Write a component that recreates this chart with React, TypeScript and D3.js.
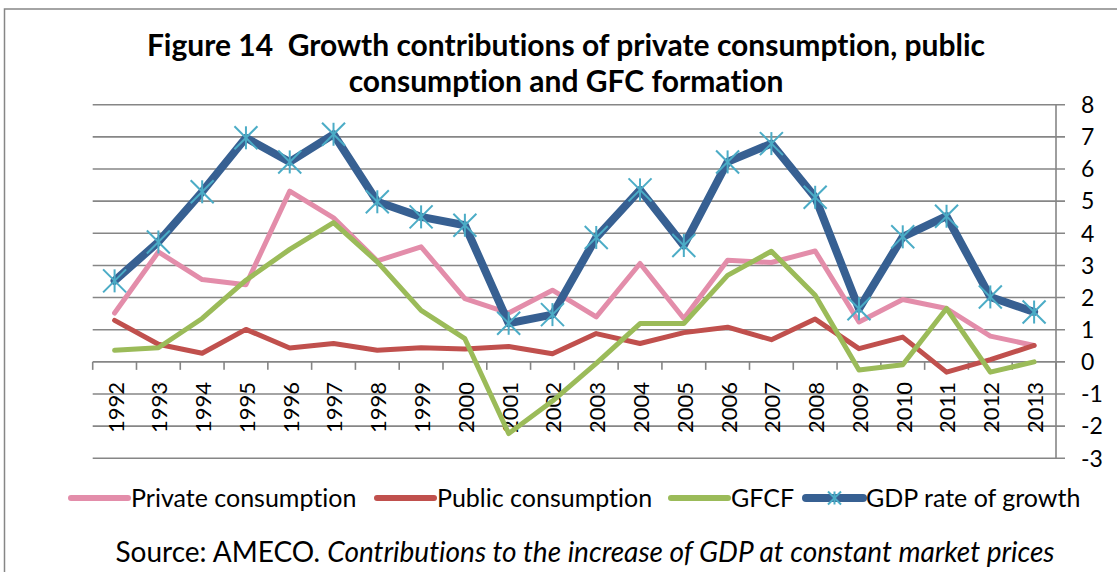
import React from 'react';
import * as d3 from 'd3';

const years = ['1992','1993','1994','1995','1996','1997','1998','1999','2000','2001','2002','2003','2004','2005','2006','2007','2008','2009','2010','2011','2012','2013'];
const privateConsumption = [1.52,3.42,2.56,2.4,5.31,4.48,3.14,3.58,1.97,1.52,2.23,1.4,3.06,1.35,3.16,3.09,3.45,1.24,1.94,1.66,0.8,0.51];
const publicConsumption = [1.29,0.55,0.27,1.01,0.43,0.57,0.36,0.44,0.4,0.48,0.25,0.88,0.57,0.91,1.08,0.69,1.33,0.41,0.77,-0.32,0.07,0.51];
const gfcf = [0.36,0.44,1.35,2.54,3.5,4.33,3.11,1.6,0.72,-2.23,-1.22,-0.05,1.19,1.19,2.69,3.44,2.07,-0.25,-0.09,1.66,-0.32,0.0];
const gdpGrowth = [2.52,3.73,5.29,6.97,6.22,7.08,4.98,4.51,4.25,1.2,1.47,3.87,5.35,3.62,6.22,6.79,5.12,1.65,3.89,4.53,2.02,1.55];
const yTicks = [-3,-2,-1,0,1,2,3,4,5,6,7,8];
const seriesNames = ['Private consumption','Public consumption','GFCF','GDP rate of growth'];

const W = 1117, H = 572;
const FONT = 'Lato, "Open Sans", sans-serif';
const GRID = '#868686';
const COLORS = ['#E38DAA', '#C0504D', '#9BBB59', '#376092'];
const MARKER = '#4BACC6';
const WIDTHS = [5, 5, 5, 8];

const x = d3.scaleBand<string>().domain(years).range([92.7, 1056]).paddingInner(0).paddingOuter(0);
const y = d3.scaleLinear().domain([-3, 8]).range([458.3, 104.7]);
const cx = (yr: string) => (x(yr) as number) + x.bandwidth() / 2;

const series = [privateConsumption, publicConsumption, gfcf, gdpGrowth];
const line = d3.line<number>().x((_, i) => cx(years[i])).y(d => y(d)).curve(d3.curveLinear);

function Star({ px, py, r, sw }: { px: number; py: number; r: number; sw: number }) {
  return (
    <g stroke={MARKER} strokeWidth={sw} fill="none">
      <line x1={px - r} y1={py - r} x2={px + r} y2={py + r} />
      <line x1={px - r} y1={py + r} x2={px + r} y2={py - r} />
      <line x1={px} y1={py - r} x2={px} y2={py + r} />
    </g>
  );
}

const legendX = [71, 377, 671, 806];
const legendY = 498;
const noLig = { fontVariantLigatures: 'none' as const };

export default function App() {
  const left = x.range()[0];
  const right = x.range()[1];
  const boundaries = years.map(yr => x(yr) as number).concat([right]);
  return (
    <svg width={W} height={H} style={{ position: 'absolute', left: 0, top: 0, ...noLig }} fontFamily={FONT}>
      <rect x={0} y={0} width={W} height={H} fill="#fff" />
      <rect x={4.5} y={9} width={W + 20} height={H + 20} fill="none" stroke={GRID} strokeWidth={1.5} />
      <text x={566} y={56} textAnchor="middle" fontSize={30} fontWeight="bold" fill="#000">{'Figure 14\u00A0 Growth contributions of private consumption, public'}</text>
      <text x={566} y={92} textAnchor="middle" fontSize={30} fontWeight="bold" fill="#000">consumption and GFC formation</text>
      {yTicks.map(t => (
        <g key={t}>
          <line x1={left} x2={right + 9} y1={y(t)} y2={y(t)} stroke={GRID} strokeWidth={1.6} />
          <text x={1081} y={y(t)} dy="0.36em" fontSize={23} fill="#000">{t}</text>
        </g>
      ))}
      <line x1={right} x2={right} y1={y(8)} y2={y(-3)} stroke={GRID} strokeWidth={1.6} />
      {boundaries.map((bx, i) => (
        <line key={i} x1={bx} x2={bx} y1={y(0)} y2={y(0) + 8} stroke={GRID} strokeWidth={1.6} />
      ))}
      {years.map(yr => (
        <text key={yr} transform={`translate(${cx(yr) + 1},382) rotate(-90)`} textAnchor="end" dy="0.36em" fontSize={22} fill="#000">{yr}</text>
      ))}
      {series.map((s, i) => (
        <path key={i} d={line(s) as string} fill="none" stroke={COLORS[i]} strokeWidth={WIDTHS[i]} strokeLinejoin="round" strokeLinecap="round" />
      ))}
      {gdpGrowth.map((v, i) => (
        <Star key={i} px={cx(years[i])} py={y(v)} r={11.5} sw={2} />
      ))}
      {seriesNames.map((name, i) => (
        <g key={name}>
          <line x1={legendX[i]} x2={legendX[i] + 57} y1={legendY} y2={legendY} stroke={COLORS[i]} strokeWidth={i === 3 ? 8 : 6} strokeLinecap="round" />
          {i === 3 && <Star px={legendX[i] + 28.5} py={legendY} r={6.5} sw={2} />}
          <text x={legendX[i] + 60} y={legendY} dy="0.36em" fontSize={25} fill="#000">{name}</text>
        </g>
      ))}
      <text x={585} y={552} textAnchor="middle" dy="0.36em" fontSize={28} fill="#000">
        Source: AMECO<tspan fontStyle="italic">. Contributions to the increase of GDP at constant market prices</tspan>
      </text>
    </svg>
  );
}
